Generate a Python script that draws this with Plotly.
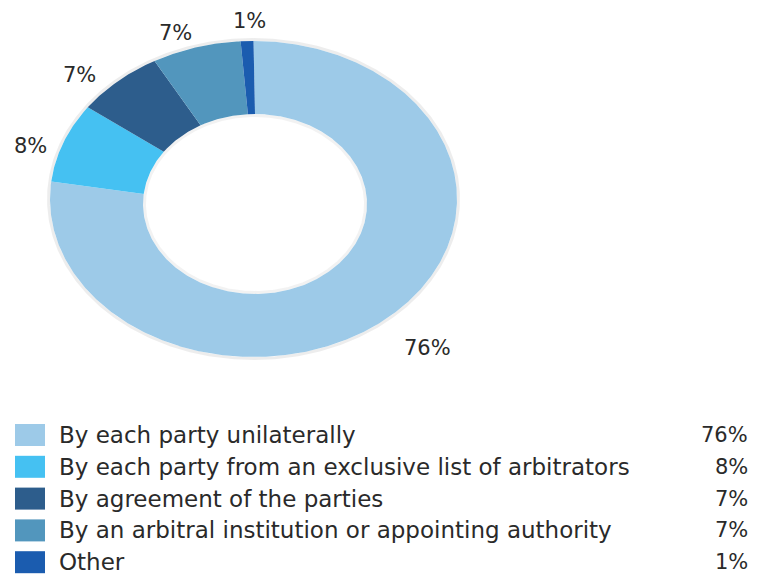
import numpy as np
import plotly.graph_objects as go

# Arbitrator appointment methods (share of respondents, %)
categories = [
    "By each party unilaterally",
    "By each party from an exclusive list of arbitrators",
    "By agreement of the parties",
    "By an arbitral institution or appointing authority",
    "Other",
]
values = [76, 8, 7, 7, 1]
colors = ["#9DCAE8", "#45C1F2", "#2D5D8C", "#5296BD", "#1B5CAF"]

# Canvas is laid out in pixel units (y grows downward)
W, H = 765, 576
OUT_C = (253.5, 199.0)   # outer ellipse centre
OUT_R = (203.5, 158.0)   # outer radii (x, y)
IN_C = (255.0, 204.0)    # hole centre
IN_R = (112.0, 90.0)     # hole radii

TXT = "#2a2a2a"
FONT = "DejaVu Sans"

# where each slice label sits relative to the slice's outer mid-point
label_shift = [(38, 31), (-33, 3), (-38, -6), (-21, -14), (2, -20)]


def ellipse_pt(c, r, theta):
    """Point on an ellipse; theta in degrees clockwise from 12 o'clock."""
    t = np.radians(theta)
    return c[0] + r[0] * np.sin(t), c[1] - r[1] * np.cos(t)


fig = go.Figure()

# soft rim around the ring and the hole (drawn underneath the slices)
th = np.linspace(0, 360, 721)
for c, r, w, a in [(OUT_C, (OUT_R[0] + 1.5, OUT_R[1] + 1.5), 3, 0.07),
                   (IN_C, (IN_R[0] - 1.5, IN_R[1] - 1.5), 3, 0.05)]:
    ex, ey = ellipse_pt(c, r, th)
    fig.add_trace(go.Scatter(x=ex, y=ey, mode="lines", hoverinfo="skip",
                             line=dict(color=f"rgba(0,0,0,{a})", width=w),
                             showlegend=False))

total = sum(values)
start = 0.0
for name, v, col, (dx, dy) in zip(categories, values, colors, label_shift):
    end = start + v / total * 360.0
    th = np.linspace(start, end, max(int((end - start) * 2), 8))
    ox, oy = ellipse_pt(OUT_C, OUT_R, th)
    ix, iy = ellipse_pt(IN_C, IN_R, th[::-1])
    fig.add_trace(go.Scatter(
        x=np.concatenate([ox, ix, ox[:1]]),
        y=np.concatenate([oy, iy, oy[:1]]),
        fill="toself", fillcolor=col, mode="lines",
        line=dict(width=0, color=col), name=name,
        hoverinfo="name", showlegend=False,
    ))
    mx, my = ellipse_pt(OUT_C, OUT_R, (start + end) / 2)
    fig.add_annotation(x=mx + dx, y=my + dy, text=f"{v}%", showarrow=False,
                       font=dict(family=FONT, size=21, color=TXT),
                       xanchor="center", yanchor="middle")
    start = end

# legend block: swatch, label, value
row0, step = 435.0, 31.8
for i, (name, v, col) in enumerate(zip(categories, values, colors)):
    yc = row0 + i * step
    fig.add_shape(type="rect", x0=15, x1=45, y0=yc - 11, y1=yc + 11,
                  xref="x", yref="y", fillcolor=col, line=dict(width=0))
    fig.add_annotation(x=58, y=yc, text=name, showarrow=False,
                       xanchor="left", yanchor="middle", borderpad=0,
                       font=dict(family=FONT, size=23, color=TXT))
    fig.add_annotation(x=749, y=yc, text=f"{v}%", showarrow=False,
                       xanchor="right", yanchor="middle", borderpad=0,
                       font=dict(family=FONT, size=21, color=TXT))

fig.update_layout(
    width=W, height=H,
    margin=dict(l=0, r=0, t=0, b=0),
    paper_bgcolor="white", plot_bgcolor="white",
    xaxis=dict(range=[0, W], visible=False, fixedrange=True),
    yaxis=dict(range=[H, 0], visible=False, fixedrange=True),
    showlegend=False,
)

fig.write_html("out.html")
